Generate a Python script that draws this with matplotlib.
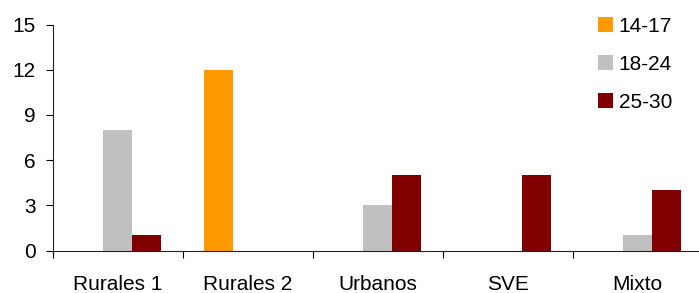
import numpy as np
import matplotlib.pyplot as plt
from matplotlib.patches import Patch

plt.rcParams['font.family'] = ['Liberation Sans', 'DejaVu Sans']

categories = ["Rurales 1", "Rurales 2", "Urbanos", "SVE", "Mixto"]
series = ["14-17", "18-24", "25-30"]
v_14_17 = [0, 12, 0, 0, 0]
v_18_24 = [8, 0, 3, 0, 1]
v_25_30 = [1, 0, 5, 5, 4]
colors = ["#FF9900", "#C0C0C0", "#800000"]

fig = plt.figure(figsize=(6.99, 2.93), dpi=100)
ax = fig.add_axes([52.5 / 699, 42.5 / 293, 650 / 699, 226 / 293])

x = np.arange(len(categories))
w = 0.223
for i, (vals, c) in enumerate(zip([v_14_17, v_18_24, v_25_30], colors)):
    ax.bar(x + (i - 1) * w, vals, width=w, color=c, linewidth=0)

ax.set_xlim(-0.5, len(categories) - 0.5)
ax.set_ylim(0, 15)
ax.set_yticks([0, 3, 6, 9, 12, 15])

# category boundaries get the tick marks, labels sit in between
ax.set_xticks(np.arange(len(categories) + 1) - 0.5)
ax.set_xticklabels([])
ax.set_xticks(x, minor=True)
ax.set_xticklabels(categories, minor=True)
ax.tick_params(axis='x', which='major', length=5, width=0.8, direction='out')
ax.tick_params(axis='x', which='minor', length=0, pad=17.5, labelsize=15)
ax.tick_params(axis='y', length=5, width=0.8, pad=7, labelsize=15)

for s in ['top', 'right']:
    ax.spines[s].set_visible(False)
for s in ['left', 'bottom']:
    ax.spines[s].set_linewidth(0.8)
    ax.spines[s].set_color('#222222')

handles = [Patch(facecolor=c, edgecolor='none') for c in colors]
fig.legend(handles, series, loc='upper left', bbox_to_anchor=(597.5 / 699, 1 - 17 / 293),
           frameon=False, fontsize=15, handlelength=0.72, handleheight=0.72,
           handletextpad=0.3, labelspacing=0.9, borderpad=0, borderaxespad=0)

fig.savefig("out.png", dpi=100)
